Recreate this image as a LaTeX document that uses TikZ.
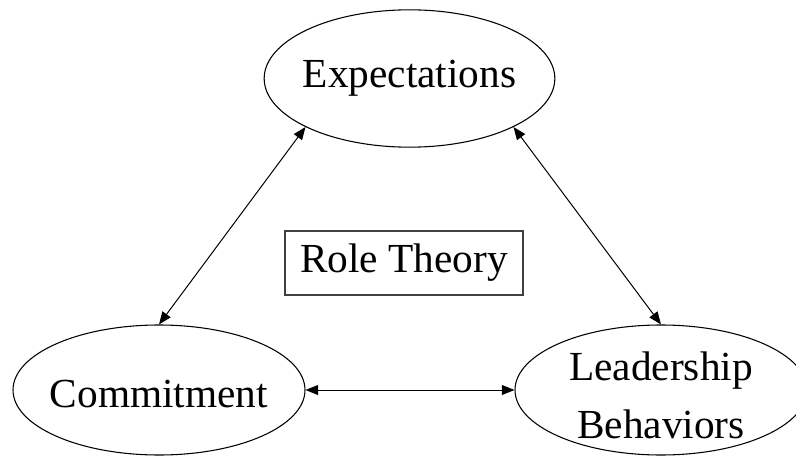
\documentclass[tikz,border=0pt]{standalone}
\usepackage{fontspec}
\setmainfont{Liberation Serif}
\usetikzlibrary{shapes.geometric,arrows.meta}
\begin{document}
\begin{tikzpicture}[x=0.75pt,y=-0.75pt,
  font=\fontsize{31}{44}\selectfont,
  ell/.style={ellipse, draw, line width=0.8pt, inner sep=0pt},
  txt/.style={align=center, inner sep=0pt, font=\fontsize{31}{44}\selectfont},
  rolebox/.style={rectangle, draw=black!75, line width=0.9pt, minimum width=178.5pt, minimum height=48pt},
  link/.style={{Triangle[length=9.5pt,width=7.5pt]}-{Triangle[length=9.5pt,width=7.5pt]}, line width=0.75pt}]
\useasboundingbox (0,0) rectangle (796,460);
% three concepts
\node[ell, minimum width=218pt, minimum height=103pt,
      label={[txt]center:Expectations}] (exp) at (409.5,78.5) {};
\node[ell, minimum width=219pt, minimum height=97.5pt,
      label={[txt,yshift=-3pt]center:Commitment}] (com) at (159,390) {};
\node[ell, minimum width=219pt, minimum height=97.5pt,
      label={[txt,yshift=-4pt]center:Leadership\\Behaviors}] (lead) at (661,390) {};
% central label
\node[rolebox] (role) at (404,263) {Role Theory};
% links
\draw[link] (com.north) -- (exp.205.5);
\draw[link] (exp.335.8) -- (lead.north);
\draw[link] (com.east) -- (lead.west);
\end{tikzpicture}
\end{document}
